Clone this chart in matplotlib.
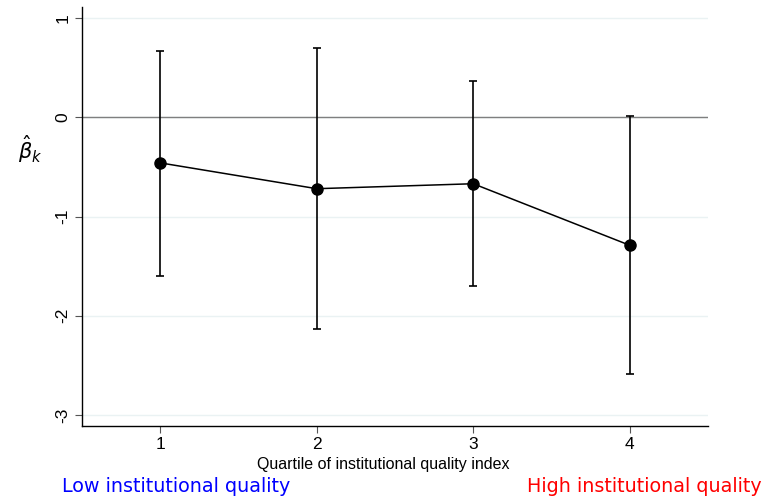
import matplotlib
matplotlib.use("Agg")
import matplotlib.pyplot as plt

quartiles = [1, 2, 3, 4]
beta = [-0.46, -0.72, -0.67, -1.29]
ci_low = [-1.60, -2.13, -1.70, -2.59]
ci_high = [0.67, 0.70, 0.36, 0.01]
y_ticks = [1, 0, -1, -2, -3]

fig = plt.figure(figsize=(7.65, 4.96), dpi=100)
ax = fig.add_axes([0.1072, 0.1411, 0.8183, 0.8448])

for t in y_ticks:
    ax.axhline(t, color="#eaf2f3", lw=1.0, zorder=0)
ax.axhline(0, color="#7f7f7f", lw=1.0, zorder=1)

yerr = [[b - l for b, l in zip(beta, ci_low)], [h - b for b, h in zip(beta, ci_high)]]
ax.errorbar(quartiles, beta, yerr=yerr, fmt="none", ecolor="black",
            elinewidth=1.2, capsize=3, capthick=1.2, zorder=2)
ax.plot(quartiles, beta, color="black", lw=1.1, marker="o", markersize=8, zorder=3)

ax.set_xlim(0.5, 4.5)
ax.set_ylim(-3.11, 1.11)
ax.set_xticks(quartiles)
ax.set_yticks(y_ticks)
ax.set_yticklabels([str(t) for t in y_ticks], rotation=90, va="center")
for lab in ax.get_xticklabels() + ax.get_yticklabels():
    lab.set_family("Liberation Sans")
    lab.set_fontsize(12.5)
ax.tick_params(axis="both", length=5, width=0.8, color="#555555")
ax.tick_params(axis="x", pad=3)
ax.spines["top"].set_visible(False)
ax.spines["right"].set_visible(False)
ax.spines["left"].set_linewidth(1.0)
ax.spines["bottom"].set_linewidth(1.0)

ax.set_xlabel("Quartile of institutional quality index", family="Liberation Sans",
              fontsize=11.5)
ax.xaxis.set_label_coords(0.481, -0.075)
fig.text(0.04, 0.70, r"$\hat{\beta}_k$", fontsize=15, ha="center", va="center")

fig.text(62 / 765, 1 - 486 / 496, "Low institutional quality", color="#0000ff",
         fontsize=13.8, ha="left", va="center")
fig.text(762 / 765, 1 - 486 / 496, "High institutional quality", color="#ff0000",
         fontsize=13.8, ha="right", va="center")

fig.savefig("out.png", dpi=100)
